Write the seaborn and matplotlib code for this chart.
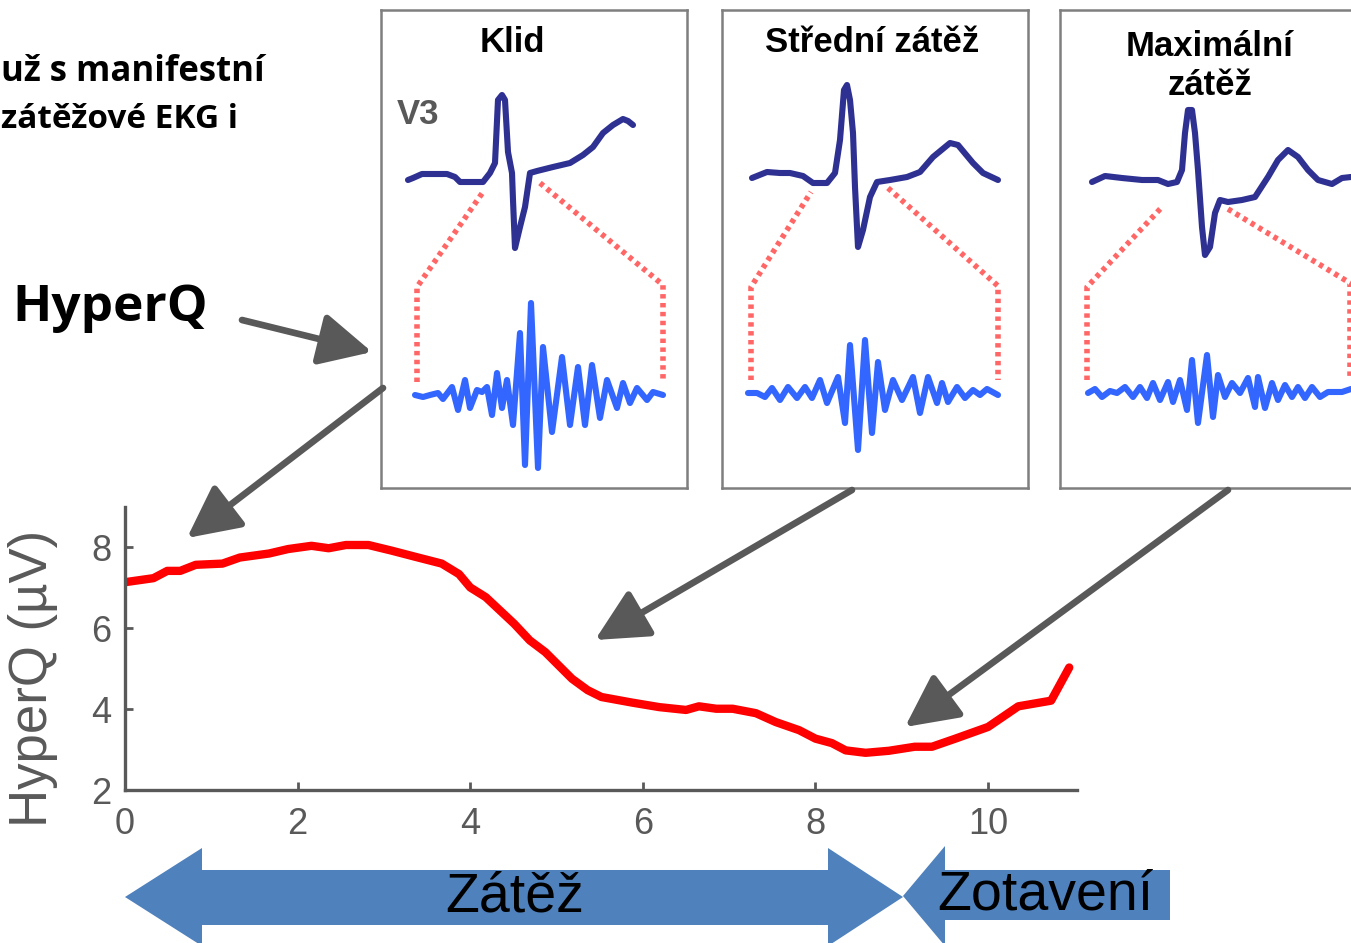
import numpy as np
import pandas as pd
import matplotlib
matplotlib.use("Agg")
import matplotlib.pyplot as plt
import seaborn as sns
from matplotlib.patches import Polygon

# ---------------- data ----------------
time_min = [0.0, 0.33, 0.49, 0.64, 0.82, 1.13, 1.33, 1.67, 1.89, 2.16, 2.36, 2.56, 2.82,
            3.09, 3.36, 3.67, 3.87, 4.0, 4.18, 4.51, 4.69, 4.87, 5.18, 5.36, 5.52, 5.88,
            6.19, 6.5, 6.65, 6.85, 7.04, 7.31, 7.54, 7.81, 8.0, 8.19, 8.35, 8.58, 8.85,
            9.15, 9.35, 9.62, 10.0, 10.35, 10.73, 10.94]
hyperq_uv = [7.14, 7.24, 7.42, 7.42, 7.57, 7.6, 7.75, 7.85, 7.96, 8.04, 7.98, 8.06, 8.06,
             7.92, 7.77, 7.6, 7.34, 7.01, 6.77, 6.11, 5.70, 5.41, 4.75, 4.47, 4.3, 4.16,
             4.05, 3.98, 4.07, 4.01, 4.01, 3.90, 3.68, 3.48, 3.27, 3.16, 2.98, 2.92, 2.97,
             3.07, 3.07, 3.27, 3.56, 4.07, 4.21, 5.03]
x_ticks = [0, 2, 4, 6, 8, 10]
y_ticks = [2, 4, 6, 8]

panel_titles = ["Klid", "Střední zátěž", "Maximální\nzátěž"]

# ECG (V3) traces per panel: sample position, level (panel-local units, level grows downward)
ecg_t = [
    [27, 32, 41, 66, 74, 79, 102, 109, 114, 117, 121, 124, 127, 131, 132, 134, 139, 144, 149,
     156, 172, 189, 202, 212, 222, 232, 242, 247, 252],
    [30, 45, 58, 68, 81, 91, 105, 113, 118, 122, 125, 128, 131, 133, 136, 141, 148, 155, 168,
     185, 198, 211, 228, 236, 251, 261, 276],
    [32, 45, 62, 82, 98, 108, 117, 122, 125, 128, 132, 135, 138, 142, 145, 150, 155, 160, 168,
     182, 195, 208, 218, 228, 238, 248, 258, 272, 282, 291],
]
ecg_v = [
    [170, 168, 164, 164, 167, 172, 172, 163, 153, 90, 85, 90, 142, 163, 190, 238, 217, 197, 163,
     161, 157, 153, 145, 137, 123, 115, 109, 111, 115],
    [168, 162, 163, 163, 166, 173, 173, 163, 130, 80, 75, 90, 123, 177, 237, 220, 187, 172, 170,
     167, 162, 147, 133, 135, 153, 163, 170],
    [172, 166, 168, 170, 170, 174, 172, 160, 123, 100, 100, 123, 160, 217, 245, 237, 203, 190, 192,
     190, 187, 167, 150, 140, 147, 160, 170, 174, 168, 167],
]
# high-frequency QRS component per panel
hf_t = [
    [34, 42, 49, 57, 62, 71, 77, 84, 89, 96, 101, 106, 111, 116, 121, 126, 132, 139, 144, 150,
     157, 162, 171, 181, 189, 197, 204, 211, 219, 226, 236, 242, 249, 256, 266, 272, 282],
    [26, 35, 43, 50, 58, 66, 75, 83, 90, 98, 105, 116, 123, 128, 136, 143, 150, 156, 163, 171,
     180, 191, 198, 206, 215, 220, 226, 235, 243, 251, 258, 265, 276],
    [28, 35, 42, 50, 57, 65, 73, 80, 87, 93, 100, 108, 113, 120, 127, 132, 138, 147, 153, 158,
     165, 172, 180, 188, 195, 198, 205, 212, 218, 225, 232, 238, 245, 252, 260, 268, 282, 291],
]
hf_v = [
    [385, 387, 385, 383, 389, 377, 400, 370, 398, 380, 382, 377, 405, 363, 398, 370, 415, 323,
     455, 293, 458, 337, 422, 347, 415, 357, 415, 355, 408, 370, 398, 373, 393, 378, 390, 382, 385],
    [383, 383, 387, 378, 390, 377, 388, 377, 388, 370, 393, 367, 413, 335, 440, 330, 423, 352,
     400, 370, 390, 367, 403, 367, 393, 373, 392, 377, 388, 380, 385, 379, 385],
    [383, 379, 387, 381, 383, 377, 387, 377, 388, 373, 390, 372, 392, 370, 400, 350, 413, 345,
     407, 365, 387, 373, 383, 368, 397, 367, 398, 373, 390, 375, 387, 377, 388, 377, 387, 382,
     382, 379],
]
# zoom-window guides (dotted) per panel
guide_left_t = [[36, 102], [29, 89], [27, 102]]
guide_right_t = [[159, 282], [166, 276], [168, 290]]
guide_left_v = [[372, 277, 182], [370, 277, 182], [370, 277, 197]]
guide_right_v = [[173, 275, 372], [178, 276, 370], [199, 273, 370]]

# ---------------- style ----------------
sns.set_theme(style="ticks")
plt.rcParams["font.family"] = ["Liberation Sans", "DejaVu Sans"]
GRAY = "#595959"

W, H = 1351, 943
fig = plt.figure(figsize=(W / 100, H / 100), dpi=100)
fig.patch.set_facecolor("white")

# ---------------- main chart ----------------
ax = fig.add_axes([125 / W, 153 / H, 952 / W, 283 / H])
df = pd.DataFrame({"t": time_min, "hq": hyperq_uv})
sns.lineplot(data=df, x="t", y="hq", ax=ax, color="#ff0000", linewidth=6, sort=False)
ax.set_xlim(0, 11.03)
ax.set_ylim(2, 9)
ax.set_xticks(x_ticks)
ax.set_yticks(y_ticks)
ax.set_xlabel("")
ax.set_ylabel("HyperQ (µV)", fontsize=38, color=GRAY, va="center")
ax.yaxis.set_label_coords(-0.097, 0.395)
sns.despine(ax=ax)
for s in ["left", "bottom"]:
    ax.spines[s].set_color(GRAY)
    ax.spines[s].set_linewidth(2.4)
ax.tick_params(axis="both", direction="in", length=6, width=2, color=GRAY,
               labelcolor=GRAY, labelsize=26, pad=10)
ax.tick_params(axis="x", pad=12)
ax.set_facecolor("none")

# ---------------- ECG panels ----------------
panel_left = [381, 722, 1060]
panel_top, panel_w, panel_h = 10, 306, 478
for i in range(3):
    pa = fig.add_axes([panel_left[i] / W, (H - panel_top - panel_h) / H, panel_w / W, panel_h / H])
    pa.set_xlim(0, panel_w)
    pa.set_ylim(panel_h, 0)
    pa.set_xticks([])
    pa.set_yticks([])
    pa.set_facecolor("white")
    for s in pa.spines.values():
        s.set_visible(True)
        s.set_color("#7f7f7f")
        s.set_linewidth(1.8)
    # dotted guides
    pa.plot([guide_left_t[i][0], guide_left_t[i][0], guide_left_t[i][1]], guide_left_v[i],
            color="#ff6666", lw=4, ls=(0, (0.8, 0.8)), solid_capstyle="butt")
    pa.plot([guide_right_t[i][0], guide_right_t[i][1], guide_right_t[i][1]], guide_right_v[i],
            color="#ff6666", lw=4, ls=(0, (0.8, 0.8)), solid_capstyle="butt")
    sns.lineplot(x=ecg_t[i], y=ecg_v[i], ax=pa, color="#2e3192", lw=4.4, sort=False)
    sns.lineplot(x=hf_t[i], y=hf_v[i], ax=pa, color="#3366ff", lw=4.4, sort=False)
    for ln in pa.lines:
        ln.set_solid_joinstyle("round")
        ln.set_solid_capstyle("round")
    pa.set_xlabel("")
    pa.set_ylabel("")
    if i < 2:
        pa.text(panel_w * (0.43 if i == 0 else 0.49), 32, panel_titles[i], ha="center", va="center",
                fontsize=25, fontweight="bold", color="black")
    else:
        pa.text(150, 56, panel_titles[i], ha="center", va="center", fontsize=25,
                fontweight="bold", color="black", linespacing=1.25)
    if i == 0:
        pa.text(16, 105, "V3", ha="left", va="center", fontsize=25, fontweight="bold", color=GRAY)

# ---------------- overlay (arrows, labels) ----------------
ov = fig.add_axes([0, 0, 1, 1])
ov.set_xlim(0, W)
ov.set_ylim(H, 0)
ov.axis("off")
ov.patch.set_alpha(0)

arrows = [((242, 320), (372, 352)), ((383, 388), (187, 538)),
          ((852, 490), (595, 640)), ((1228, 490), (905, 727))]
for tail, tip in arrows:
    ov.annotate("", xy=tip, xytext=tail,
                arrowprops=dict(arrowstyle="-|>,head_length=1.0,head_width=0.5",
                                mutation_scale=32, lw=4.8, color=GRAY,
                                shrinkA=0, shrinkB=0))

blue = "#4f81bd"
big = Polygon([(125, 897), (202, 848), (202, 870), (828, 870), (828, 848), (903, 897),
               (828, 946), (828, 925), (202, 925), (202, 946)], closed=True,
              facecolor=blue, edgecolor="none")
rec = Polygon([(903, 896), (945, 846), (945, 870), (1170, 870), (1170, 920), (945, 920),
               (945, 946)], closed=True, facecolor=blue, edgecolor="none")
ov.add_patch(big)
ov.add_patch(rec)
ov.text(515, 897, "Zátěž", ha="center", va="center", fontsize=40, color="black")
ov.text(1045, 895, "Zotavení", ha="center", va="center", fontsize=40, color="black")

ov.text(110, 308, "HyperQ", ha="center", va="center", fontsize=37, fontweight="bold",
        color="black", family=["Open Sans", "DejaVu Sans"])
ov.text(1, 72, "už s manifestní", ha="left", va="center", fontsize=25, fontweight="bold",
        color="black", family=["Open Sans", "DejaVu Sans"])
ov.text(1, 120, "zátěžové EKG i", ha="left", va="center", fontsize=24, fontweight="bold",
        color="black", family=["Open Sans", "DejaVu Sans"])

fig.savefig("out.png", dpi=100)
